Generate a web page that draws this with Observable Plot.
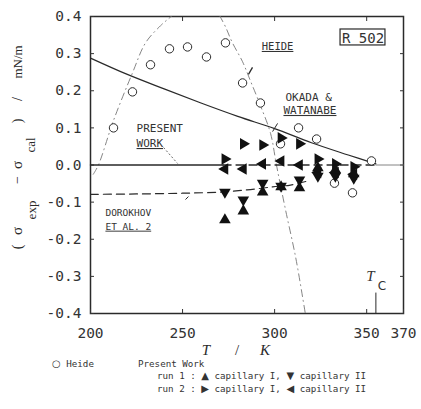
<!DOCTYPE html>
<html><head><meta charset="utf-8">
<script src="https://cdn.jsdelivr.net/npm/d3@7"></script>
<script src="https://cdn.jsdelivr.net/npm/@observablehq/plot@0.6"></script>
<style>
body{margin:0;background:#fff;width:421px;height:409px;overflow:hidden;}
#legend{position:relative;height:52px;font-family:"DejaVu Sans Mono",monospace;font-size:9.2px;color:#333;}
#legend div{position:absolute;white-space:pre;line-height:10px;}
#legend .sym{font-family:"DejaVu Sans";font-size:10px;line-height:10px;}
</style></head><body>
<div id="chart"></div>
<div id="legend"></div>
<script>
// ---- data ----
const xTicks = [200, 250, 300, 350, 370];
const yTicks = [-0.4, -0.3, -0.2, -0.1, 0, 0.1, 0.2, 0.3, 0.4];

// Heide experimental points (open circles)
const heideT = [212.5, 222.8, 232.6, 242.9, 252.7, 263.0, 273.3, 282.6, 292.3, 303.2, 313.0, 322.8, 332.5, 342.3, 352.6];
const heideV = [0.10, 0.197, 0.27, 0.313, 0.318, 0.291, 0.329, 0.221, 0.167, 0.057, 0.10, 0.07, -0.049, -0.075, 0.011];

// Present work temperatures
const runT = [273, 283, 293.5, 303.5, 313.5, 323.5, 333, 343];
const run1CapI  = [-0.148, -0.124, -0.073, -0.059, -0.062, -0.008, -0.013, -0.024]; // ▲
const run1CapII = [-0.073, -0.094, -0.049, -0.057, -0.040, -0.030, -0.030, -0.035]; // ▼
const run2CapI  = [0.016, 0.057, 0.054, 0.073, 0.057, 0.016, 0.003, -0.005];        // ▶
const run2CapII = [-0.011, -0.011, 0.003, 0.011, 0.0, -0.02, -0.02, -0.025];        // ◀

// Heide correlation curve
const heideCurveT = [201.5, 204.3, 212.5, 222.8, 229.9, 238, 246, 259, 272, 277, 282.6, 287, 292.3, 297.8, 301, 305.9, 311.4, 315.2, 317];
const heideCurveV = [-0.025, 0.0, 0.12, 0.248, 0.329, 0.375, 0.41, 0.48, 0.385, 0.33, 0.278, 0.225, 0.16, 0.085, 0.0, -0.12, -0.248, -0.356, -0.41];

// Okada & Watanabe correlation
const okadaT = [200, 220, 240, 260, 280, 300, 320, 340, 355];
const okadaV = [0.288, 0.244, 0.205, 0.167, 0.131, 0.098, 0.06, 0.027, 0.003];

// Dorokhov et al. correlation
const dorokhovT = [200, 225, 250, 270, 285, 298.9, 308.6, 318];
const dorokhovV = [-0.079, -0.078, -0.076, -0.073, -0.067, -0.059, -0.054, -0.043];

// Present work (reference, zero deviation)
const presentSolidT = [200, 272];
const presentDashT = [272, 355];
const presentTailT = [355, 370];
const Tc = 355;

const pts = (T, V) => T.map((t, i) => ({T: t, v: V[i]}));
const flat = T => T.map(t => ({T: t, v: 0}));

const mono = "DejaVu Sans Mono";
const ink = "#2a2a2a";
const plot = Plot.plot({
  width: 421, height: 357,
  marginLeft: 90, marginRight: 18, marginTop: 16, marginBottom: 44,
  x: {domain: [200, 370]},
  y: {domain: [-0.4, 0.4]},
  style: {fontFamily: mono, fontSize: "14.5px", color: "#333", background: "white"},
  marks: [
    Plot.frame({strokeWidth: 1.5, stroke: ink}),
    Plot.axisY({ticks: yTicks, tickFormat: d => d.toFixed(1), tickSize: -4, tickPadding: 13, label: null}),
    Plot.axisY({anchor: "right", ticks: yTicks, tickFormat: () => "", tickSize: -4, label: null}),
    Plot.axisX({ticks: xTicks, tickFormat: d => String(d), tickSize: -4, tickPadding: 18, label: null}),
    Plot.axisX({anchor: "top", ticks: [250, 300, 350], tickFormat: () => "", tickSize: -4, label: null}),
    // curves
    Plot.line(pts(heideCurveT, heideCurveV), {x: "T", y: "v", curve: "catmull-rom", clip: true, stroke: "#777", strokeWidth: 0.9, strokeDasharray: "7 4 1 4"}),
    Plot.line(pts(okadaT, okadaV), {x: "T", y: "v", curve: "catmull-rom", stroke: ink, strokeWidth: 1.2}),
    Plot.line(pts(dorokhovT, dorokhovV), {x: "T", y: "v", curve: "catmull-rom", stroke: ink, strokeWidth: 1.2, strokeDasharray: "8 5"}),
    Plot.line(flat(presentSolidT), {x: "T", y: "v", stroke: ink, strokeWidth: 1.5}),
    Plot.line(flat(presentDashT), {x: "T", y: "v", stroke: ink, strokeWidth: 1.4, strokeDasharray: "8 5"}),
    Plot.line(flat(presentTailT), {x: "T", y: "v", stroke: "#666", strokeWidth: 0.8}),
    // Tc marker
    Plot.ruleX([Tc], {y1: -0.4, y2: -0.345, stroke: ink, strokeWidth: 1}),
    Plot.text(["T"], {x: 352, y: -0.30, fontStyle: "italic", fontFamily: "Liberation Serif", fontSize: 15}),
    Plot.text(["C"], {x: 358.3, y: -0.327, fontFamily: "DejaVu Sans", fontSize: 12}),
    // points
    Plot.dot(pts(heideT, heideV), {x: "T", y: "v", r: 4.2, stroke: ink, strokeWidth: 1, fill: "white"}),
    Plot.dot(pts(runT, run2CapI), {x: "T", y: "v", symbol: "triangle", r: 4.3, fill: "#111", rotate: 90}),
    Plot.dot(pts(runT, run2CapII), {x: "T", y: "v", symbol: "triangle", r: 4.3, fill: "#111", rotate: -90}),
    Plot.dot(pts(runT, run1CapII), {x: "T", y: "v", symbol: "triangle", r: 4.3, fill: "#111", rotate: 180}),
    Plot.dot(pts(runT, run1CapI), {x: "T", y: "v", symbol: "triangle", r: 4.3, fill: "#111"}),
    // annotations
    Plot.rect([0], {x1: 335.8, x2: 360.2, y1: 0.322, y2: 0.365, fill: "none", stroke: ink, strokeWidth: 1.2}),
    Plot.text(["R 502"], {x: 348, y: 0.341, fontSize: 14, fontFamily: mono}),
    Plot.text(["HEIDE"], {x: 301.6, y: 0.319, fontSize: 10.5, fontFamily: mono}),
    Plot.text(["OKADA &"], {x: 305.9, y: 0.182, textAnchor: "start", fontSize: 11, fontFamily: mono}),
    Plot.text(["WATANABE"], {x: 304.8, y: 0.147, textAnchor: "start", fontSize: 11, fontFamily: mono}),
    Plot.text(["PRESENT"], {x: 225, y: 0.098, textAnchor: "start", fontSize: 11, fontFamily: mono}),
    Plot.text(["WORK"], {x: 225, y: 0.058, textAnchor: "start", fontSize: 11, fontFamily: mono}),
    Plot.text(["DOROKHOV"], {x: 208.1, y: -0.128, textAnchor: "start", fontSize: 9.5, fontFamily: mono}),
    Plot.text(["ET AL. 2"], {x: 208.1, y: -0.166, textAnchor: "start", fontSize: 9.5, fontFamily: mono}),
    // leaders
    Plot.link([0], {x1: 239.7, y1: 0.047, x2: 247.3, y2: 0.004, stroke: "#444", strokeWidth: 0.8, strokeDasharray: "2 2"}),
    Plot.link([0], {x1: 301.6, y1: 0.112, x2: 298.9, y2: 0.09, stroke: ink, strokeWidth: 1}),
    Plot.link([0], {x1: 288, y1: 0.263, x2: 285.8, y2: 0.244, stroke: ink, strokeWidth: 1.3}),
    Plot.link([0], {x1: 253.2, y1: -0.085, x2: 251.6, y2: -0.093, stroke: ink, strokeWidth: 1})
  ]
});
document.getElementById("chart").appendChild(plot);

const svg = d3.select(plot);
// underline labels
const underlined = new Set(["HEIDE", "WATANABE", "WORK", "ET AL. 2"]);
svg.selectAll("text").filter(function() { return underlined.has(this.textContent); })
  .attr("text-decoration", "underline");

// y-axis label with subscripts
const yPieces = [
  {t: "(", x: 22, y: 247, s: 14},
  {t: "σ", x: 22, y: 231, s: 15},
  {t: "exp", x: 36, y: 210, s: 13},
  {t: "−", x: 22, y: 180, s: 14},
  {t: "σ", x: 22, y: 165, s: 15},
  {t: "cal", x: 35, y: 145, s: 13},
  {t: ")", x: 22, y: 121, s: 14},
  {t: "/", x: 22, y: 99, s: 14},
  {t: "mN/m", x: 22, y: 62, s: 13}
];
yPieces.forEach(p => {
  svg.append("text")
    .attr("transform", `translate(${p.x},${p.y}) rotate(-90)`)
    .attr("text-anchor", "middle")
    .style("font-family", "Liberation Serif")
    .style("font-size", p.s + "px")
    .attr("fill", ink)
    .text(p.t);
});
// x-axis label
[{t: "T", x: 206}, {t: "/", x: 237}, {t: "K", x: 265}].forEach(p => {
  svg.append("text").attr("x", p.x).attr("y", 355).attr("text-anchor", "middle")
    .style("font-family", "Liberation Serif").style("font-style", p.t === "/" ? "normal" : "italic")
    .style("font-size", "15px").attr("fill", ink).text(p.t);
});

// legend
const legendItems = [
  {parts: [["○", true], [" Heide", false]], left: 52, top: 2},
  {parts: [["Present Work", false]], left: 138, top: 2},
  {parts: [["run 1 : ", false], ["▲", true], [" capillary I, ", false], ["▼", true], [" capillary II", false]], left: 157, top: 14},
  {parts: [["run 2 : ", false], ["▶", true], [" capillary I, ", false], ["◀", true], [" capillary II", false]], left: 157, top: 27}
];
const lg = document.getElementById("legend");
legendItems.forEach(it => {
  const d = document.createElement("div");
  it.parts.forEach(([t, sym]) => {
    const s = document.createElement("span");
    if (sym) s.className = "sym";
    s.textContent = t;
    d.appendChild(s);
  });
  d.style.left = it.left + "px"; d.style.top = it.top + "px";
  lg.appendChild(d);
});
</script>
</body></html>
